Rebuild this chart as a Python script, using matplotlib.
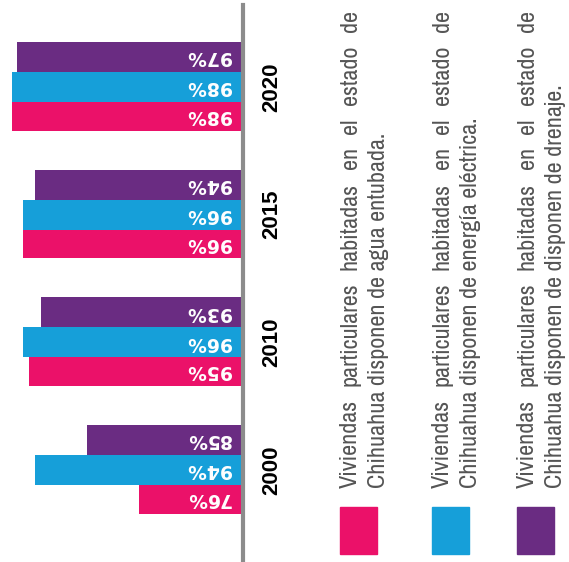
import numpy as np
import matplotlib.pyplot as plt
from matplotlib.patches import Rectangle
from matplotlib import font_manager

# data (percent of homes)
years = ['2000', '2010', '2015', '2020']
agua = [76, 95, 96, 98]
electrica = [94, 96, 96, 98]
drenaje = [85, 93, 94, 97]

labels = [
    ['Viviendas particulares habitadas en el estado de',
     'Chihuahua disponen de agua entubada.'],
    ['Viviendas particulares habitadas en el estado de',
     'Chihuahua disponen de energía eléctrica.'],
    ['Viviendas particulares habitadas en el estado de',
     'Chihuahua disponen de disponen de drenaje.'],
]
colors = ['#EB1169', '#169FD9', '#6A2C82']

# pick a narrow font for the legend if one is installed
names = sorted({f.name for f in font_manager.fontManager.ttflist})
narrow = [n for n in names if 'Narrow' in n or 'Condensed' in n]
legend_font = narrow[0] if narrow else 'Lato'

base = 58  # bars start here (the chart is not zero based)

fig = plt.figure(figsize=(5.69, 5.62), dpi=100)
ax = fig.add_axes([0, 2 / 562, 243 / 569, 555 / 562])

pos = np.arange(len(years))
h = 0.235
offsets = [-0.225, 0.0, 0.235]
for vals, off, col in zip([agua, electrica, drenaje], offsets, colors):
    vals = np.array(vals)
    ax.barh(pos + off, vals - base, left=base, height=h, color=col, zorder=2)
    for p, v in zip(pos, vals):
        ax.text(base + 2.1, p + off, '%d%%' % v, rotation=180, rotation_mode='anchor',
                ha='left', va='center', color='white', fontweight='bold',
                fontsize=13.5, family='DejaVu Sans', zorder=3)

for p, y in zip(pos, years):
    ax.text(1.12, p, y, transform=ax.get_yaxis_transform(), rotation=90,
            ha='center', va='center', fontsize=16, fontweight='bold',
            family='Liberation Sans', clip_on=False)

ax.set_xlim(100, base)
ax.set_ylim(-0.705, 3.641)
ax.set_xticks([])
ax.set_yticks([])
for s in ['left', 'top', 'bottom']:
    ax.spines[s].set_visible(False)
ax.spines['right'].set_color('#8c8c8c')
ax.spines['right'].set_linewidth(3)

# legend drawn in a pixel-coordinate overlay
lax = fig.add_axes([0, 0, 1, 1])
lax.set_xlim(0, 569)
lax.set_ylim(562, 0)
lax.axis('off')
renderer = fig.canvas.get_renderer()
tkw = dict(family=legend_font, fontweight='light', color='#555555')


def word_widths(words, size):
    out = []
    for w in words:
        t = lax.text(0, 0, w, fontsize=size, **tkw)
        out.append(t.get_window_extent(renderer).width)
        t.remove()
    return out


# size the legend font so the first line's words fill ~400 px
first = labels[0][0].split()
size = 10 * 400 / sum(word_widths(first, 10))


def justified_line(words, x, y0, y1):
    widths = word_widths(words, size)
    gap = ((y0 - y1) - sum(widths)) / (len(words) - 1)
    y = y0
    for w, wd in zip(words, widths):
        lax.text(x, y, w, rotation=90, rotation_mode='anchor', ha='left',
                 va='baseline', fontsize=size, **tkw)
        y -= wd + gap


sq_left = [340, 432, 517]
for left, col, lab in zip(sq_left, colors, labels):
    lax.add_patch(Rectangle((left, 507), 37, 47, color=col))
    justified_line(lab[0].split(), left + 17, 488, 10)
    lax.text(left + 45, 488, lab[1], rotation=90, rotation_mode='anchor',
             ha='left', va='baseline', fontsize=size, **tkw)

fig.savefig('out.png', dpi=100)
